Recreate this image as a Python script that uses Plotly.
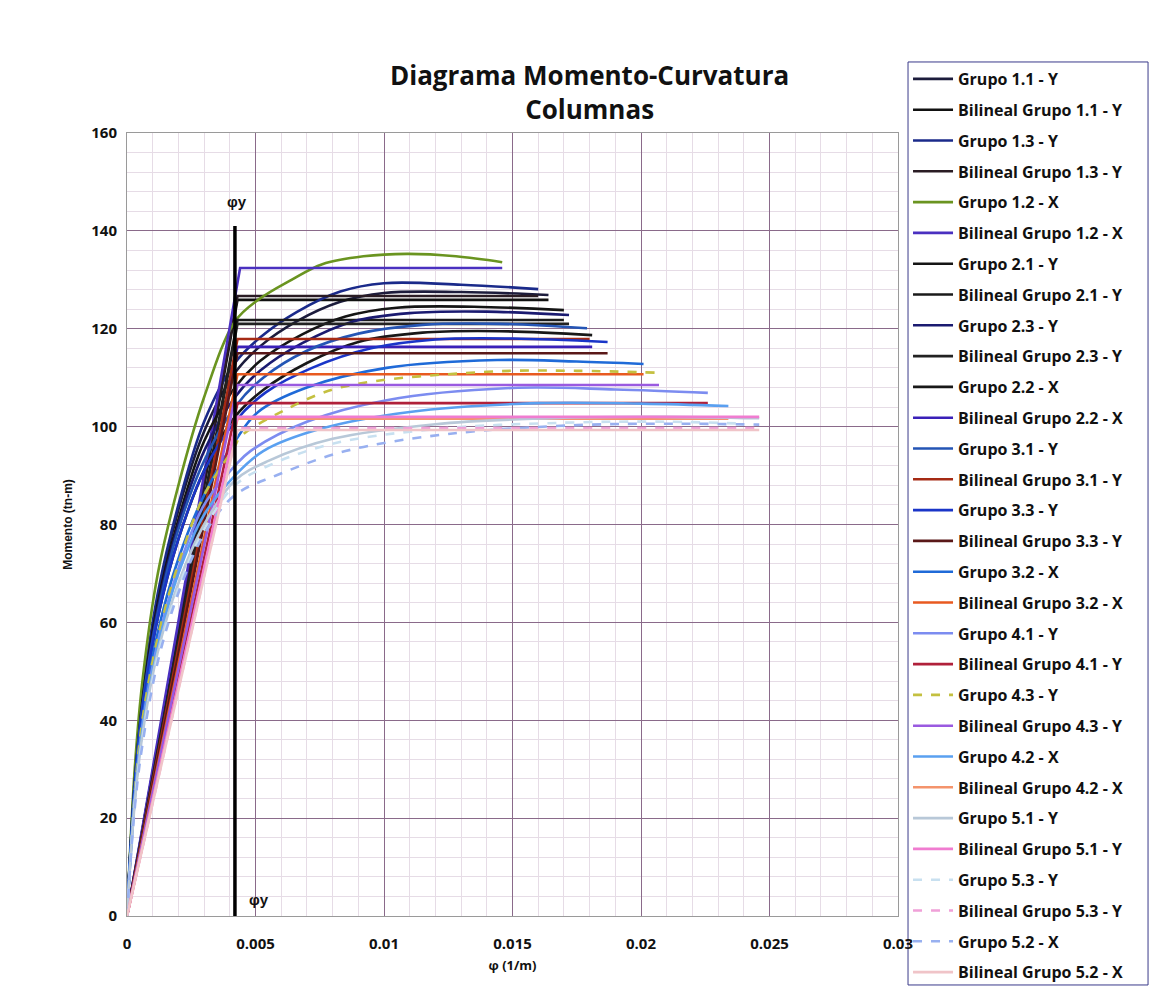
import plotly.graph_objects as go

# ---------------- data ----------------
series_names = [
    "Grupo 1.1 - Y", "Bilineal Grupo 1.1 - Y",
    "Grupo 1.3 - Y", "Bilineal Grupo 1.3 - Y",
    "Grupo 1.2 - X", "Bilineal Grupo 1.2 - X",
    "Grupo 2.1 - Y", "Bilineal Grupo 2.1 - Y",
    "Grupo 2.3 - Y", "Bilineal Grupo 2.3 - Y",
    "Grupo 2.2 - X", "Bilineal Grupo 2.2 - X",
    "Grupo 3.1 - Y", "Bilineal Grupo 3.1 - Y",
    "Grupo 3.3 - Y", "Bilineal Grupo 3.3 - Y",
    "Grupo 3.2 - X", "Bilineal Grupo 3.2 - X",
    "Grupo 4.1 - Y", "Bilineal Grupo 4.1 - Y",
    "Grupo 4.3 - Y", "Bilineal Grupo 4.3 - Y",
    "Grupo 4.2 - X", "Bilineal Grupo 4.2 - X",
    "Grupo 5.1 - Y", "Bilineal Grupo 5.1 - Y",
    "Grupo 5.3 - Y", "Bilineal Grupo 5.3 - Y",
    "Grupo 5.2 - X", "Bilineal Grupo 5.2 - X",
]

# Moment-curvature curves (phi in 1/m, M in tn-m)
phi_g11 = [0, 0.0003, 0.0006, 0.0012, 0.0020, 0.0030, 0.0042, 0.0052, 0.0066, 0.0083, 0.0100, 0.0130, 0.0164]
m_g11 = [0, 28, 45, 65, 83, 99, 111, 116.5, 121.5, 125.5, 127.3, 127.5, 126.9]
phi_g13 = [0, 0.0003, 0.0006, 0.0012, 0.0020, 0.0030, 0.0042, 0.0052, 0.0066, 0.0083, 0.0100, 0.0130, 0.0160]
m_g13 = [0, 28, 45, 66, 84, 101, 113, 118.3, 123.4, 127.6, 129.3, 129.0, 128.1]
phi_g12 = [0, 0.0003, 0.0006, 0.0012, 0.0020, 0.0030, 0.0042, 0.0051, 0.0064, 0.0076, 0.0092, 0.0109, 0.0128, 0.0146]
m_g12 = [0, 30, 48, 70, 88, 106, 121.5, 125.9, 130.0, 133.2, 134.8, 135.3, 134.8, 133.6]
phi_g21 = [0, 0.0003, 0.0006, 0.0012, 0.0020, 0.0030, 0.0042, 0.0052, 0.0068, 0.0085, 0.0105, 0.0135, 0.0170]
m_g21 = [0, 27, 44, 64, 81, 97, 108, 113.5, 118.8, 122.5, 124.3, 124.5, 123.8]
phi_g23 = [0, 0.0003, 0.0006, 0.0012, 0.0020, 0.0030, 0.0042, 0.0052, 0.0068, 0.0088, 0.0110, 0.0140, 0.0172]
m_g23 = [0, 27, 43, 63, 80, 95, 106, 111.5, 117.0, 121.5, 123.2, 123.5, 122.8]
phi_g22 = [0, 0.0003, 0.0006, 0.0012, 0.0020, 0.0030, 0.0042, 0.0053, 0.0070, 0.0090, 0.0115, 0.0145, 0.0181]
m_g22 = [0, 26, 42, 61, 77, 91, 102, 107.5, 113.0, 117.3, 119.2, 119.5, 118.7]
phi_g31 = [0, 0.0003, 0.0006, 0.0012, 0.0020, 0.0030, 0.0042, 0.0053, 0.0070, 0.0090, 0.0115, 0.0145, 0.0179]
m_g31 = [0, 27, 43, 62, 79, 93, 104, 110.0, 115.5, 119.0, 120.8, 121.0, 120.1]
phi_g33 = [0, 0.0003, 0.0006, 0.0012, 0.0020, 0.0030, 0.0042, 0.0054, 0.0072, 0.0095, 0.0120, 0.0150, 0.0187]
m_g33 = [0, 26, 42, 61, 77, 91, 101, 107.0, 112.0, 116.0, 117.8, 118.0, 117.3]
phi_g32 = [0, 0.0003, 0.0006, 0.0012, 0.0020, 0.0030, 0.0042, 0.0051, 0.0070, 0.0101, 0.0144, 0.0175, 0.0201]
m_g32 = [0, 25, 40, 58, 73, 86, 97, 103.0, 108.0, 112.0, 113.6, 113.3, 112.8]
phi_g41 = [0, 0.0003, 0.0006, 0.0012, 0.0020, 0.0030, 0.0042, 0.0048, 0.0070, 0.0101, 0.0150, 0.0190, 0.0226]
m_g41 = [0, 24, 39, 56, 71, 84, 92, 95.0, 101.0, 105.4, 107.9, 107.6, 106.9]
phi_g43 = [0, 0.0003, 0.0006, 0.0012, 0.0020, 0.0030, 0.0042, 0.0044, 0.0060, 0.0083, 0.0140, 0.0175, 0.0207]
m_g43 = [0, 25, 40, 57, 72, 86, 96, 97.9, 103.0, 108.0, 111.2, 111.4, 111.0]
phi_g42 = [0, 0.0003, 0.0006, 0.0012, 0.0020, 0.0030, 0.0042, 0.0053, 0.0075, 0.0110, 0.0160, 0.0200, 0.0234]
m_g42 = [0, 24, 38, 55, 70, 82, 90, 95.0, 99.5, 103.0, 104.8, 104.7, 104.2]
phi_g51 = [0, 0.0003, 0.0006, 0.0012, 0.0020, 0.0030, 0.0042, 0.0055, 0.0080, 0.0120, 0.0170, 0.0210, 0.0246]
m_g51 = [0, 23, 37, 54, 68, 80, 89, 93.0, 97.5, 100.5, 101.8, 102.0, 101.7]
phi_g53 = [0, 0.0003, 0.0006, 0.0012, 0.0020, 0.0030, 0.0042, 0.0055, 0.0080, 0.0120, 0.0170, 0.0210, 0.0240]
m_g53 = [0, 23, 36, 53, 67, 79, 88, 92.0, 96.5, 99.5, 100.8, 101.0, 100.6]
phi_g52 = [0, 0.0003, 0.0006, 0.0012, 0.0020, 0.0030, 0.0042, 0.0058, 0.0085, 0.0125, 0.0175, 0.0215, 0.0246]
m_g52 = [0, 22, 35, 52, 66, 78, 86, 90.0, 95.0, 98.5, 100.3, 100.6, 100.4]

# Bilinear idealisations: [origin, yield, ultimate]
phi_b11 = [0, 0.0043, 0.0164]; m_b11 = [0, 125.9, 125.9]
phi_b13 = [0, 0.0043, 0.0160]; m_b13 = [0, 126.7, 126.7]
phi_b12 = [0, 0.0044, 0.0146]; m_b12 = [0, 132.4, 132.4]
phi_b21 = [0, 0.0043, 0.0170]; m_b21 = [0, 121.8, 121.8]
phi_b23 = [0, 0.0043, 0.0172]; m_b23 = [0, 121.0, 121.0]
phi_b22 = [0, 0.0043, 0.0181]; m_b22 = [0, 116.3, 116.3]
phi_b31 = [0, 0.0043, 0.0180]; m_b31 = [0, 117.9, 117.9]
phi_b33 = [0, 0.0043, 0.0187]; m_b33 = [0, 115.0, 115.0]
phi_b32 = [0, 0.0043, 0.0201]; m_b32 = [0, 110.7, 110.7]
phi_b41 = [0, 0.0043, 0.0226]; m_b41 = [0, 104.8, 104.8]
phi_b43 = [0, 0.0043, 0.0207]; m_b43 = [0, 108.5, 108.5]
phi_b42 = [0, 0.0043, 0.0234]; m_b42 = [0, 101.6, 101.6]
phi_b51 = [0, 0.0043, 0.0246]; m_b51 = [0, 102.0, 102.0]
phi_b53 = [0, 0.0043, 0.0246]; m_b53 = [0, 99.7, 99.7]
phi_b52 = [0, 0.0043, 0.0246]; m_b52 = [0, 99.3, 99.3]

# yield curvature marker
phi_y_line = [0.0042, 0.0042]
m_y_line = [0, 141]

x_tick_vals = [0, 0.005, 0.01, 0.015, 0.02, 0.025, 0.03]
x_tick_text = ["0", "0.005", "0.01", "0.015", "0.02", "0.025", "0.03"]
y_tick_vals = [0, 20, 40, 60, 80, 100, 120, 140, 160]

# ---------------- styling ----------------
series_xy = [
    (phi_g11, m_g11), (phi_b11, m_b11), (phi_g13, m_g13), (phi_b13, m_b13),
    (phi_g12, m_g12), (phi_b12, m_b12), (phi_g21, m_g21), (phi_b21, m_b21),
    (phi_g23, m_g23), (phi_b23, m_b23), (phi_g22, m_g22), (phi_b22, m_b22),
    (phi_g31, m_g31), (phi_b31, m_b31), (phi_g33, m_g33), (phi_b33, m_b33),
    (phi_g32, m_g32), (phi_b32, m_b32), (phi_g41, m_g41), (phi_b41, m_b41),
    (phi_g43, m_g43), (phi_b43, m_b43), (phi_g42, m_g42), (phi_b42, m_b42),
    (phi_g51, m_g51), (phi_b51, m_b51), (phi_g53, m_g53), (phi_b53, m_b53),
    (phi_g52, m_g52), (phi_b52, m_b52),
]
series_colors = [
    "#1c1c3c", "#111111", "#1a2a8a", "#2a1c24",
    "#6a9420", "#4a30c0", "#151515", "#1a1a1a",
    "#1a1a70", "#222222", "#181818", "#3a20b8",
    "#2455b5", "#a52a14", "#1a35c8", "#5a1818",
    "#1f6ad8", "#e85a20", "#7c8cf0", "#b0203a",
    "#c4c040", "#9a5ae0", "#5aa0f0", "#f4946c",
    "#b8c8d8", "#f07cd0", "#c8e0f0", "#f0a0d8",
    "#98b0f0", "#f0c4c8",
]
series_dash = ["solid"] * 30
series_dash[20] = "dash"
series_dash[26] = "dash"
series_dash[27] = "dash"
series_dash[28] = "dash"

fig = go.Figure()
for i, (name, (xs, ys)) in enumerate(zip(series_names, series_xy)):
    fig.add_trace(go.Scatter(
        x=xs, y=ys, mode="lines", name=name,
        legendgroup=f"g{i}",
        line=dict(color=series_colors[i], width=2.6, dash=series_dash[i],
                  shape="spline" if i % 2 == 0 else "linear"),
    ))

fig.add_trace(go.Scatter(
    x=phi_y_line, y=m_y_line, mode="lines", showlegend=False,
    line=dict(color="#000000", width=3.5), hoverinfo="skip",
))

fig.add_annotation(x=phi_y_line[0], y=m_y_line[1], text="<b>φy</b>", showarrow=False,
                   xanchor="left", yanchor="bottom", xshift=-10, yshift=14,
                   font=dict(size=15, color="#111111", family="Liberation Sans"))
fig.add_annotation(x=phi_y_line[0], y=m_y_line[0], text="<b>φy</b>", showarrow=False,
                   xanchor="left", yanchor="bottom", xshift=12, yshift=6,
                   font=dict(size=15, color="#111111", family="Liberation Sans"))

# legend frame (wider than plotly's auto-sized box)
fig.add_shape(type="rect", xref="paper", yref="paper",
              x0=1.013, x1=1.3243, y0=-0.0881, y1=1.0907,
              line=dict(color="#3a3a8a", width=1), fillcolor="white", layer="below")

fig.update_layout(
    width=1155, height=1004,
    margin=dict(l=127, r=257, t=133, b=88, autoexpand=False),
    paper_bgcolor="white", plot_bgcolor="white",
    font=dict(family="Open Sans", color="#111111"),
    title=dict(
        text="<b>Diagrama Momento-Curvatura<br>Columnas</b>",
        x=0.6, xref="paper", xanchor="center",
        y=0.915, yref="container", yanchor="top",
        font=dict(size=26, family="Open Sans", color="#111111"),
    ),
    showlegend=True,
    legend=dict(
        x=1.013, xanchor="left",
        y=1.0907, yanchor="top",
        maxheight=950,
        bgcolor="rgba(0,0,0,0)", borderwidth=0,
        font=dict(size=16, family="Open Sans", color="#111111", weight="bold"),
        tracegroupgap=7, itemwidth=40,
    ),
    xaxis=dict(
        range=[0, 0.03], tickvals=x_tick_vals, ticktext=x_tick_text,
        showgrid=True, gridcolor="#8a6a8a", gridwidth=1,
        minor=dict(dtick=0.001, showgrid=True, gridcolor="#e6dce6", gridwidth=1),
        showline=True, linecolor="#9a9a9a", mirror=True,
        ticks="", zeroline=False,
        tickfont=dict(size=15, family="Open Sans", weight="bold", color="#111111"),
        ticklabelstandoff=14,
        title=dict(text="<b>φ (1/m)</b>", font=dict(size=13, family="Open Sans"), standoff=8),
    ),
    yaxis=dict(
        range=[0, 160], tickvals=y_tick_vals,
        showgrid=True, gridcolor="#8a6a8a", gridwidth=1,
        minor=dict(dtick=4, showgrid=True, gridcolor="#e6dce6", gridwidth=1),
        showline=True, linecolor="#9a9a9a", mirror=True,
        ticks="", zeroline=False,
        tickfont=dict(size=15, family="Open Sans", weight="bold", color="#111111"),
        ticklabelstandoff=6,
        title=dict(text="<b>Momento (tn-m)</b>", font=dict(size=12, family="Liberation Sans"), standoff=16),
    ),
)

fig.write_html("out.html")
